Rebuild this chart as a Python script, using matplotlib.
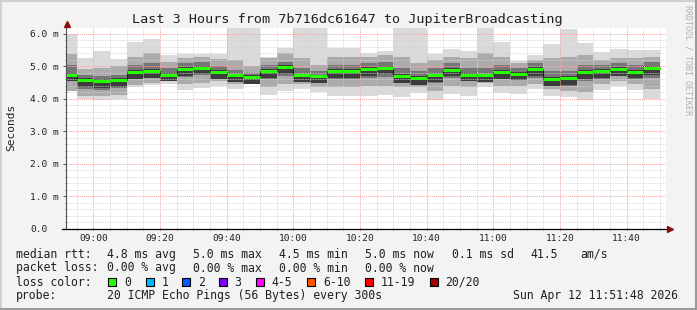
import numpy as np
import matplotlib.pyplot as plt
from matplotlib.lines import Line2D
from matplotlib.patches import Rectangle

plt.rcParams['font.family'] = ['DejaVu Sans Mono']

# 5 minute steps (start of each step), 08:50 .. 11:45
steps = ["08:50", "08:55", "09:00", "09:05", "09:10", "09:15", "09:20", "09:25", "09:30",
         "09:35", "09:40", "09:45", "09:50", "09:55", "10:00", "10:05", "10:10", "10:15",
         "10:20", "10:25", "10:30", "10:35", "10:40", "10:45", "10:50", "10:55", "11:00",
         "11:05", "11:10", "11:15", "11:20", "11:25", "11:30", "11:35", "11:40", "11:45"]

# median rtt per step (ms)
median = [4.75, 4.57, 4.54, 4.57, 4.82, 4.85, 4.75, 4.91, 4.96, 4.82, 4.72, 4.66,
          4.85, 4.98, 4.72, 4.69, 4.85, 4.85, 4.91, 4.96, 4.70, 4.64, 4.72, 4.89,
          4.75, 4.72, 4.82, 4.78, 4.91, 4.60, 4.64, 4.82, 4.85, 4.91, 4.84, 4.95]
# smoke: min / max of the 20 pings
ping_min = [4.25, 4.00, 3.95, 4.00, 4.37, 4.44, 4.47, 4.26, 4.34, 4.41, 4.29, 4.46,
            4.13, 4.23, 4.29, 4.21, 4.08, 4.08, 4.10, 4.13, 4.06, 4.18, 3.95, 4.16,
            4.10, 4.37, 4.18, 4.16, 4.29, 4.08, 4.06, 3.95, 4.26, 4.41, 4.26, 4.00]
ping_max = [5.99, 5.25, 5.48, 5.22, 5.76, 5.84, 5.34, 5.37, 5.39, 5.39, 6.22, 6.22,
            5.30, 5.58, 6.22, 6.17, 5.56, 5.58, 5.40, 5.48, 6.22, 6.22, 5.37, 5.53,
            5.48, 6.20, 5.76, 5.17, 5.34, 5.68, 6.15, 5.71, 5.45, 5.53, 5.50, 5.50]
# middle band of the smoke
mid_hi = [5.37, 4.91, 4.95, 5.00, 5.28, 5.40, 5.15, 5.25, 5.30, 5.22, 5.20, 5.00,
          5.25, 5.40, 5.25, 5.05, 5.30, 5.28, 5.30, 5.35, 5.30, 5.10, 5.20, 5.30,
          5.25, 5.40, 5.30, 5.10, 5.20, 5.25, 5.30, 5.35, 5.20, 5.25, 5.25, 5.30]
mid_lo = [4.23, 4.08, 4.10, 4.12, 4.44, 4.50, 4.55, 4.45, 4.50, 4.55, 4.45, 4.55,
          4.35, 4.45, 4.45, 4.35, 4.35, 4.35, 4.40, 4.40, 4.35, 4.35, 4.25, 4.40,
          4.35, 4.50, 4.40, 4.40, 4.45, 4.30, 4.25, 4.20, 4.45, 4.55, 4.45, 4.30]
# dark core of the smoke
core_hi = [5.05, 4.72, 4.70, 4.75, 5.05, 5.10, 4.95, 5.10, 5.15, 5.00, 4.90, 4.80,
           5.05, 5.15, 4.95, 4.85, 5.05, 5.05, 5.10, 5.15, 4.95, 4.85, 4.95, 5.10,
           4.95, 4.95, 5.05, 4.95, 5.10, 4.85, 4.85, 5.05, 5.05, 5.10, 5.05, 5.15]
core_lo = [4.55, 4.30, 4.28, 4.32, 4.60, 4.68, 4.62, 4.68, 4.72, 4.65, 4.55, 4.55,
           4.60, 4.70, 4.55, 4.50, 4.60, 4.60, 4.65, 4.68, 4.50, 4.45, 4.50, 4.65,
           4.55, 4.55, 4.60, 4.60, 4.65, 4.40, 4.40, 4.55, 4.60, 4.70, 4.60, 4.65]

ytick_labels = ["0.0", "1.0 m", "2.0 m", "3.0 m", "4.0 m", "5.0 m", "6.0 m"]
xtick_labels = ["09:00", "09:20", "09:40", "10:00", "10:20", "10:40", "11:00", "11:20", "11:40"]

loss_labels = ["0", "1", "2", "3", "4-5", "6-10", "11-19", "20/20"]
loss_colors = ["#26ff00", "#00b8ff", "#0059ff", "#7e00ff", "#ff00ff", "#ff5500", "#ff0000", "#a10000"]

W, H = 697, 310


def hm(s):
    h, m = s.split(":")
    return int(h) * 60 + int(m)


def fx(x):
    return x / W


def fy(y):
    return 1 - y / H


x0 = np.array([hm(s) for s in steps], dtype=float)
med = np.array(median)

fig = plt.figure(figsize=(W / 100, H / 100), dpi=100, facecolor='#f3f3f3')
ax = fig.add_axes([fx(66), fy(228.5), 600 / W, 201 / H])
ax.set_facecolor('white')

# smoke layers, light outside, dark towards the median
ax.bar(x0, np.array(ping_max) - np.array(ping_min), bottom=ping_min, width=5, align='edge',
       color='#dadada', linewidth=0, zorder=1)
ax.bar(x0, np.array(mid_hi) - np.array(mid_lo), bottom=mid_lo, width=5, align='edge',
       color='#ababab', linewidth=0, zorder=1)
ax.bar(x0, np.array(core_hi) - np.array(core_lo), bottom=core_lo, width=5, align='edge',
       color='#767676', linewidth=0, zorder=1)
ax.bar(x0, 0.26, bottom=med - 0.2, width=5, align='edge', color='#3c3c3c', linewidth=0, zorder=1)

# median line
ax.step(np.append(x0, x0[-1] + 5), np.append(med, med[-1]), where='post',
        color='#202020', lw=0.8, zorder=3)
ax.hlines(med, x0, x0 + 5, color=loss_colors[0], lw=2.2, zorder=4)

start = hm("08:51") + 48 / 60
ax.set_xlim(start, start + 180)
ax.set_ylim(0, 6.2)

ax.set_xticks([hm(s) for s in xtick_labels])
ax.set_xticklabels(xtick_labels, fontsize=6.8)
ax.set_xticks(np.arange(hm("08:55"), start + 180, 5), minor=True)
ax.set_yticks(np.arange(7))
ax.set_yticklabels(ytick_labels, fontsize=6.8)
ax.set_yticks(np.arange(0, 6.21, 0.2), minor=True)
for lbl in ax.get_yticklabels():
    lbl.set_horizontalalignment('left')

ax.tick_params(axis='y', which='major', length=2.5, width=0.7, color='#505050', pad=23.4,
               direction='out', labelcolor='#202020')
ax.tick_params(axis='x', which='major', length=2, width=0.7, color='#505050', pad=3,
               direction='inout', labelcolor='#202020')
ax.tick_params(which='minor', length=1.5, width=0.5, color='#808080', direction='inout')

ax.set_axisbelow(False)
ax.grid(which='minor', color='#d2d2d2', linestyle=(0, (1, 1)), lw=0.6)
ax.grid(which='major', color='#ffa0a0', linestyle=(0, (1, 1)), lw=0.7)

for s in ax.spines.values():
    s.set_visible(False)

# axes with arrows
fig.add_artist(Line2D([fx(66), fx(66)], [fy(228.5), fy(23)], color='#505050', lw=0.8))
fig.add_artist(Line2D([fx(62), fx(669)], [fy(228.5), fy(228.5)], color='black', lw=0.9))
fig.add_artist(Line2D([fx(67)], [fy(23.5)], marker='^', ms=4.5, color='#8b1010', mec='#8b1010'))
fig.add_artist(Line2D([fx(670)], [fy(228.5)], marker='>', ms=4.5, color='#8b1010', mec='#8b1010'))

fig.text(fx(347), fy(19), "Last 3 Hours from 7b716dc61647 to JupiterBroadcasting",
         fontsize=9.7, ha='center', va='center', color='#202020')
fig.text(fx(11), fy(127), "Seconds", rotation=90, fontsize=8, ha='center', va='center',
         color='#202020')
fig.text(fx(688), fy(60), "RRDTOOL / TOBI OETIKER", rotation=270, fontsize=6,
         ha='center', va='center', color='#b0b0b0')

# legend block
fs = 8.3
tc = '#202020'
row1 = [(16, "median rtt:"), (107, "4.8 ms avg"), (193, "5.0 ms max"), (279, "4.5 ms min"),
        (365, "5.0 ms now"), (451.5, "0.1 ms sd"), (530, "41.5"), (580, "am/s")]
for x, t in row1:
    fig.text(fx(x), fy(254.3), t, fontsize=fs, ha='left', va='center', color=tc)
row2 = [(16, "packet loss:"), (107, "0.00 % avg"), (193, "0.00 % max"), (279, "0.00 % min"),
        (365, "0.00 % now")]
for x, t in row2:
    fig.text(fx(x), fy(268), t, fontsize=fs, ha='left', va='center', color=tc)

fig.text(fx(16), fy(282.3), "loss color:", fontsize=fs, ha='left', va='center', color=tc)
sq_x = [108.3, 145.7, 182.3, 219, 255.7, 307.3, 365, 430]
for x, lab, c in zip(sq_x, loss_labels, loss_colors):
    fig.patches.append(Rectangle((fx(x), fy(286.3)), 8 / W, 8 / H, transform=fig.transFigure,
                                 facecolor=c, edgecolor='black', lw=0.8, figure=fig))
    fig.text(fx(x + 15.5), fy(282.3), lab, fontsize=fs, ha='left', va='center', color=tc)

fig.text(fx(16), fy(296), "probe:", fontsize=fs, ha='left', va='center', color=tc)
fig.text(fx(107), fy(296), "20 ICMP Echo Pings (56 Bytes) every 300s", fontsize=fs,
         ha='left', va='center', color=tc)
fig.text(fx(513), fy(296), "Sun Apr 12 11:51:48 2026", fontsize=fs, ha='left',
         va='center', color=tc)

# frame round the image
fig.add_artist(Line2D([0, 1], [fy(1), fy(1)], color='#d0d0d0', lw=1.5))
fig.add_artist(Line2D([fx(1), fx(1)], [0, 1], color='#d0d0d0', lw=1.5))
fig.add_artist(Line2D([0, 1], [fy(308.5), fy(308.5)], color='#9a9a9a', lw=2.2))
fig.add_artist(Line2D([fx(695.5), fx(695.5)], [0, 1], color='#9a9a9a', lw=2.2))

fig.savefig("out.png", dpi=100, facecolor=fig.get_facecolor())
